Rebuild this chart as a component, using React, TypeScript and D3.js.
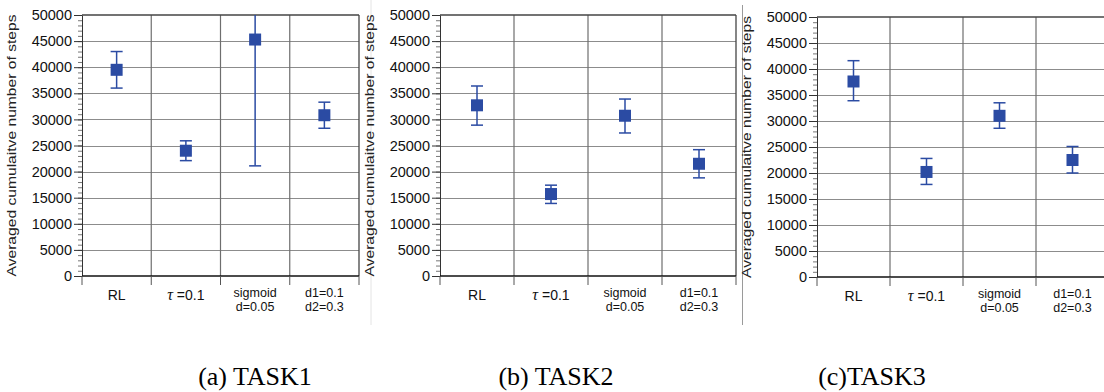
import React, { useRef, useEffect } from 'react';
import * as d3 from 'd3';

// Categories along the x axis (shared by the three tasks)
const categories = ['RL', 'tau', 'sigmoid', 'd1d2'];
const categoryLabels = [['RL'], ['τ', ' =0.1'], ['sigmoid', 'd=0.05'], ['d1=0.1', 'd2=0.3']];

// TASK1
const task1Mean = [39500, 24000, 45300, 30800];
const task1Upper = [43000, 25900, 69500, 33300];
const task1Lower = [36000, 22100, 21100, 28300];

// TASK2
const task2Mean = [32700, 15700, 30700, 21500];
const task2Upper = [36400, 17400, 33900, 24200];
const task2Lower = [28900, 13900, 27400, 18800];

// TASK3
const task3Mean = [37600, 20200, 31000, 22500];
const task3Upper = [41600, 22800, 33500, 25100];
const task3Lower = [33900, 17800, 28600, 20000];

const yMajorTicks = [0, 5000, 10000, 15000, 20000, 25000, 30000, 35000, 40000, 45000, 50000];
const yMinorTicks = d3.range(0, 50001, 1000);
const captions = ['(a) TASK1', '(b) TASK2', '(c)TASK3'];
const yTitle = 'Averaged cumulaitve number of steps';

const sans = '"Liberation Sans", Arial, sans-serif';
const serif = '"Liberation Serif", "Times New Roman", serif';
const blue = '#2b4ba3';

const App = () => {
  const svgRef = useRef<SVGSVGElement>(null);

  useEffect(() => {
    const svg = d3.select(svgRef.current);
    svg.selectAll('*').remove();

    const tasks = [
      { mean: task1Mean, upper: task1Upper, lower: task1Lower },
      { mean: task2Mean, upper: task2Upper, lower: task2Lower },
      { mean: task3Mean, upper: task3Upper, lower: task3Lower },
    ];

    // where each panel sits on the page
    const panels = [
      { left: 82, right: 359, top: 15, bottom: 276, capX: 255 },
      { left: 440, right: 736, top: 15, bottom: 276, capX: 556 },
      { left: 817, right: 1109, top: 17, bottom: 277, capX: 872 },
    ];

    // separators between panels
    svg.append('line').attr('x1', 371).attr('x2', 371).attr('y1', 0).attr('y2', 325)
      .attr('stroke', '#e4e4e4').attr('stroke-width', 1);
    svg.append('line').attr('x1', 742.5).attr('x2', 742.5).attr('y1', 5).attr('y2', 325)
      .attr('stroke', '#9a9a9a').attr('stroke-width', 1);

    panels.forEach((p, i) => {
      const d = tasks[i];
      const g = svg.append('g');
      const x = d3.scaleBand().domain(categories).range([p.left, p.right]);
      const y = d3.scaleLinear().domain([0, 50000]).range([p.bottom, p.top]);

      // clip for the error bars
      g.append('clipPath').attr('id', `clip${i}`)
        .append('rect')
        .attr('x', p.left).attr('y', p.top)
        .attr('width', p.right - p.left).attr('height', p.bottom - p.top);

      // horizontal grid
      g.selectAll('.hgrid')
        .data(yMajorTicks.slice(1, -1))
        .join('line')
        .attr('x1', p.left).attr('x2', p.right)
        .attr('y1', (v) => Math.round(y(v)) + 0.5).attr('y2', (v) => Math.round(y(v)) + 0.5)
        .attr('stroke', '#8c8c8c').attr('stroke-width', 1.2);

      // vertical grid at category boundaries
      const edges = categories.map((c) => x(c) as number).concat([p.right]);
      g.selectAll('.vgrid')
        .data(edges.slice(1, -1))
        .join('line')
        .attr('x1', (e) => e).attr('x2', (e) => e)
        .attr('y1', p.top).attr('y2', p.bottom)
        .attr('stroke', '#6e6e6e').attr('stroke-width', 1.2);

      // frame: top and right
      g.append('line').attr('x1', p.left).attr('x2', p.right)
        .attr('y1', y(50000)).attr('y2', y(50000))
        .attr('stroke', '#444').attr('stroke-width', 1.3);
      g.append('line').attr('x1', p.right).attr('x2', p.right)
        .attr('y1', p.top).attr('y2', p.bottom)
        .attr('stroke', '#444').attr('stroke-width', 1.3);

      // y axis: minor ticks then major ticks with labels
      g.append('g')
        .attr('transform', `translate(${p.left},0)`)
        .call(d3.axisLeft(y).tickValues(yMinorTicks).tickSize(4).tickSizeOuter(0).tickFormat(() => ''))
        .call((a) => a.selectAll('line').attr('stroke', '#777'))
        .call((a) => a.select('.domain').remove());
      g.append('g')
        .attr('transform', `translate(${p.left},0)`)
        .call(
          d3.axisLeft(y).tickValues(yMajorTicks).tickSize(8).tickSizeOuter(0).tickPadding(2)
            .tickFormat(d3.format('d'))
        )
        .call((a) => a.select('.domain').attr('stroke', '#333'))
        .call((a) => a.selectAll('line').attr('stroke', '#333'))
        .call((a) =>
          a.selectAll('text').attr('font-family', sans).attr('font-size', 14.5).attr('fill', '#111')
        );

      // x axis line and boundary ticks
      g.append('line').attr('x1', p.left).attr('x2', p.right)
        .attr('y1', p.bottom).attr('y2', p.bottom)
        .attr('stroke', '#111').attr('stroke-width', 1.6);
      g.selectAll('.xtick')
        .data(edges)
        .join('line')
        .attr('x1', (e) => e).attr('x2', (e) => e)
        .attr('y1', p.bottom).attr('y2', p.bottom + 9)
        .attr('stroke', '#555').attr('stroke-width', 1);

      // category labels
      categories.forEach((c, k) => {
        const cx = (x(c) as number) + x.bandwidth() / 2;
        const lines = categoryLabels[k];
        if (c === 'tau') {
          const t = g.append('text').attr('x', cx).attr('y', p.bottom + 24)
            .attr('text-anchor', 'middle').attr('font-family', sans).attr('font-size', 14).attr('fill', '#111');
          t.append('tspan').attr('font-family', serif).attr('font-style', 'italic').attr('font-size', 16).text(lines[0]);
          t.append('tspan').text(lines[1]);
        } else if (lines.length === 1) {
          g.append('text').attr('x', cx).attr('y', p.bottom + 24)
            .attr('text-anchor', 'middle').attr('font-family', sans).attr('font-size', 14).attr('fill', '#111')
            .text(lines[0]);
        } else {
          lines.forEach((s, j) => {
            g.append('text').attr('x', cx).attr('y', p.bottom + 21 + j * 14)
              .attr('text-anchor', 'middle').attr('font-family', sans).attr('font-size', 12.5).attr('fill', '#111')
              .text(s);
          });
        }
      });

      // y title
      g.append('text')
        .attr('transform', `translate(${p.left - 66},${(p.top + p.bottom) / 2}) rotate(-90)`)
        .attr('text-anchor', 'middle')
        .attr('font-family', sans).attr('font-size', 13).attr('fill', '#222')
        .attr('textLength', 262).attr('lengthAdjust', 'spacingAndGlyphs')
        .text(yTitle);

      // error bars
      const eb = g.append('g').attr('clip-path', `url(#clip${i})`);
      categories.forEach((c, k) => {
        const cx = (x(c) as number) + x.bandwidth() / 2;
        eb.append('line').attr('x1', cx).attr('x2', cx)
          .attr('y1', y(d.upper[k])).attr('y2', y(d.lower[k]))
          .attr('stroke', blue).attr('stroke-width', 1.5);
        [d.upper[k], d.lower[k]].forEach((v) => {
          eb.append('line').attr('x1', cx - 6).attr('x2', cx + 6)
            .attr('y1', y(v)).attr('y2', y(v))
            .attr('stroke', blue).attr('stroke-width', 1.5);
        });
      });

      // markers
      g.selectAll('.marker')
        .data(d.mean)
        .join('rect')
        .attr('x', (_, k) => (x(categories[k]) as number) + x.bandwidth() / 2 - 6)
        .attr('y', (v) => y(v) - 6)
        .attr('width', 12).attr('height', 12)
        .attr('fill', blue);

      // caption
      svg.append('text')
        .attr('x', p.capX).attr('y', 385)
        .attr('text-anchor', 'middle')
        .attr('font-family', serif).attr('font-size', 26).attr('fill', '#000')
        .text(captions[i]);
    });
  }, []);

  return (
    <svg
      ref={svgRef}
      width={1104}
      height={392}
      style={{ position: 'absolute', left: 0, top: 0, background: '#fff' }}
    ></svg>
  );
};

export default App;
